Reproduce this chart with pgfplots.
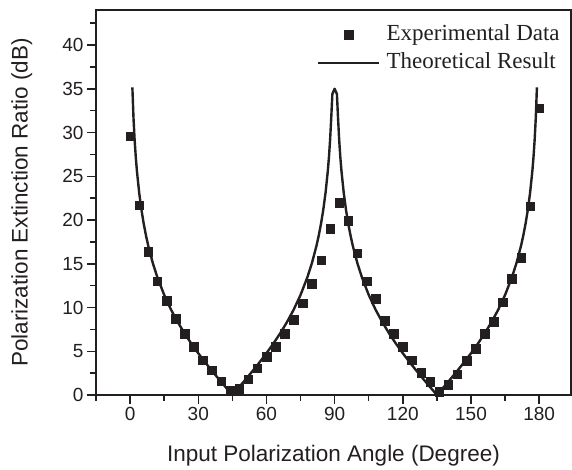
\documentclass[border=0pt]{standalone}
\usepackage{fontspec}
\setmainfont{Liberation Serif}
\setsansfont{Liberation Sans}
\usepackage{pgfplots}
\pgfplotsset{compat=1.18}
\definecolor{ink}{RGB}{35,31,32}
\pgfplotsset{
  sqleg/.style={legend image code/.code={\draw[##1] plot coordinates {(30.5pt,0pt)};}},
  lnleg/.style={legend image code/.code={\draw[##1] (0pt,0pt) -- (61pt,0pt);}},
}
\begin{document}
\begin{tikzpicture}
\begin{axis}[name=ax, scale only axis, width=475pt, height=385pt,
  xmin=-15, xmax=194, ymin=0, ymax=44,
  xtick={0,30,...,180}, minor xtick={-15,15,45,...,165},
  ytick={0,5,...,40}, minor ytick={2.5,7.5,...,42.5},
  tick pos=left, tick align=outside,
  major tick length=9pt, minor tick length=5.5pt,
  every tick/.style={ink, line width=1.5pt},
  axis line style={ink, line width=1.8pt},
  ticklabel style={font=\fontsize{19}{22}\sffamily, text=ink},
  /pgf/number format/assume math mode=true,
  xlabel={Input Polarization Angle (Degree)},
  ylabel={Polarization Extinction Ratio (dB)},
  label style={font=\fontsize{22.5}{26}\sffamily, text=ink},
  xlabel style={at={(axis description cs:0.5,-0.158)}, anchor=center},
  ylabel style={at={(axis description cs:-0.156,0.5)}, anchor=center},
  legend style={at={(axis description cs:0.4653,0.9636)}, anchor=north west,
    draw=none, fill=none, inner sep=0pt, row sep=7pt, column sep=6pt,
    font=\fontsize{23}{26}\selectfont, text=ink,
    nodes={inner sep=0pt, text height=16pt, text depth=5pt}},
  legend cell align=left,
  clip=false,
]
\addplot[only marks, mark=square*, mark size=4.3pt, color=ink, mark options={line width=0.4pt}, sqleg]
  coordinates {
  (0,29.6) (4,21.7) (8,16.4) (12,13.0) (16,10.8) (20,8.7) (24,7.0) (28,5.5)
  (32,4.0) (36,2.85) (40,1.6) (44,0.5) (48,0.7) (52,1.8) (56,3.05) (60,4.4)
  (64,5.5) (68,7.0) (72,8.6) (76,10.5) (80,12.75) (84,15.4) (88,19.0) (92,22.0)
  (96,19.9) (100,16.2) (104,13.0) (108,11.0) (112,8.5) (116,7.0) (120,5.5) (124,4.0)
  (128,2.55) (132,1.5) (136,0.35) (140,1.2) (144,2.4) (148,3.9) (152,5.3) (156,7.0)
  (160,8.4) (164,10.6) (168,13.3) (172,15.7) (176,21.6) (180,32.8)
  };
\addlegendentry{Experimental Data}
\addplot[color=ink, line width=2.4pt, line join=round, lnleg]
  coordinates {
  (1,35.16) (1.5,31.64) (2,29.14) (2.5,27.20) (3,25.61) (4,23.11) (5,21.16) (6,19.57)
  (7,18.22) (8,17.04) (10,15.07) (12,13.45) (15,11.44) (18,9.76) (21,8.32) (24,7.03)
  (27,5.86) (30,4.77) (33,3.75) (36,2.77) (39,1.83) (42,0.91) (43,0.61) (44,0.30) (45,0)
  (46,0.30) (47,0.61) (48,0.91) (51,1.83) (54,2.77) (57,3.75) (60,4.77) (63,5.86)
  (66,7.03) (69,8.32) (72,9.76) (75,11.44) (78,13.45) (80,15.07) (82,17.04) (83,18.22)
  (84,19.57) (85,21.16) (86,23.11) (87,25.61) (87.5,27.20) (88,29.14) (88.5,31.64) (89,34.4)
  (90,35.0)
  (91,34.4) (91.5,31.64) (92,29.14) (92.5,27.20) (93,25.61) (94,23.11) (95,21.16) (96,19.57)
  (97,18.22) (98,17.04) (100,15.07) (102,13.45) (105,11.44) (108,9.76) (111,8.32) (114,7.03)
  (117,5.86) (120,4.77) (123,3.75) (126,2.77) (129,1.83) (132,0.91) (133,0.61) (134,0.30) (135,0)
  (136,0.30) (137,0.61) (138,0.91) (141,1.83) (144,2.77) (147,3.75) (150,4.77) (153,5.86)
  (156,7.03) (159,8.32) (162,9.76) (165,11.44) (168,13.45) (170,15.07) (172,17.04) (173,18.22)
  (174,19.57) (175,21.16) (176,23.11) (177,25.61) (177.5,27.20) (178,29.14) (178.5,31.64) (179,35.16)
  };
\addlegendentry{Theoretical Result}
\draw[ink, line width=1.8pt, line cap=rect] (rel axis cs:0,1) -- (rel axis cs:1,1) -- (rel axis cs:1,0);
\end{axis}
\path (ax.south west) ++(-96pt,-73pt) rectangle ([shift={(476pt,395pt)}]ax.south west);
\end{tikzpicture}
\end{document}
